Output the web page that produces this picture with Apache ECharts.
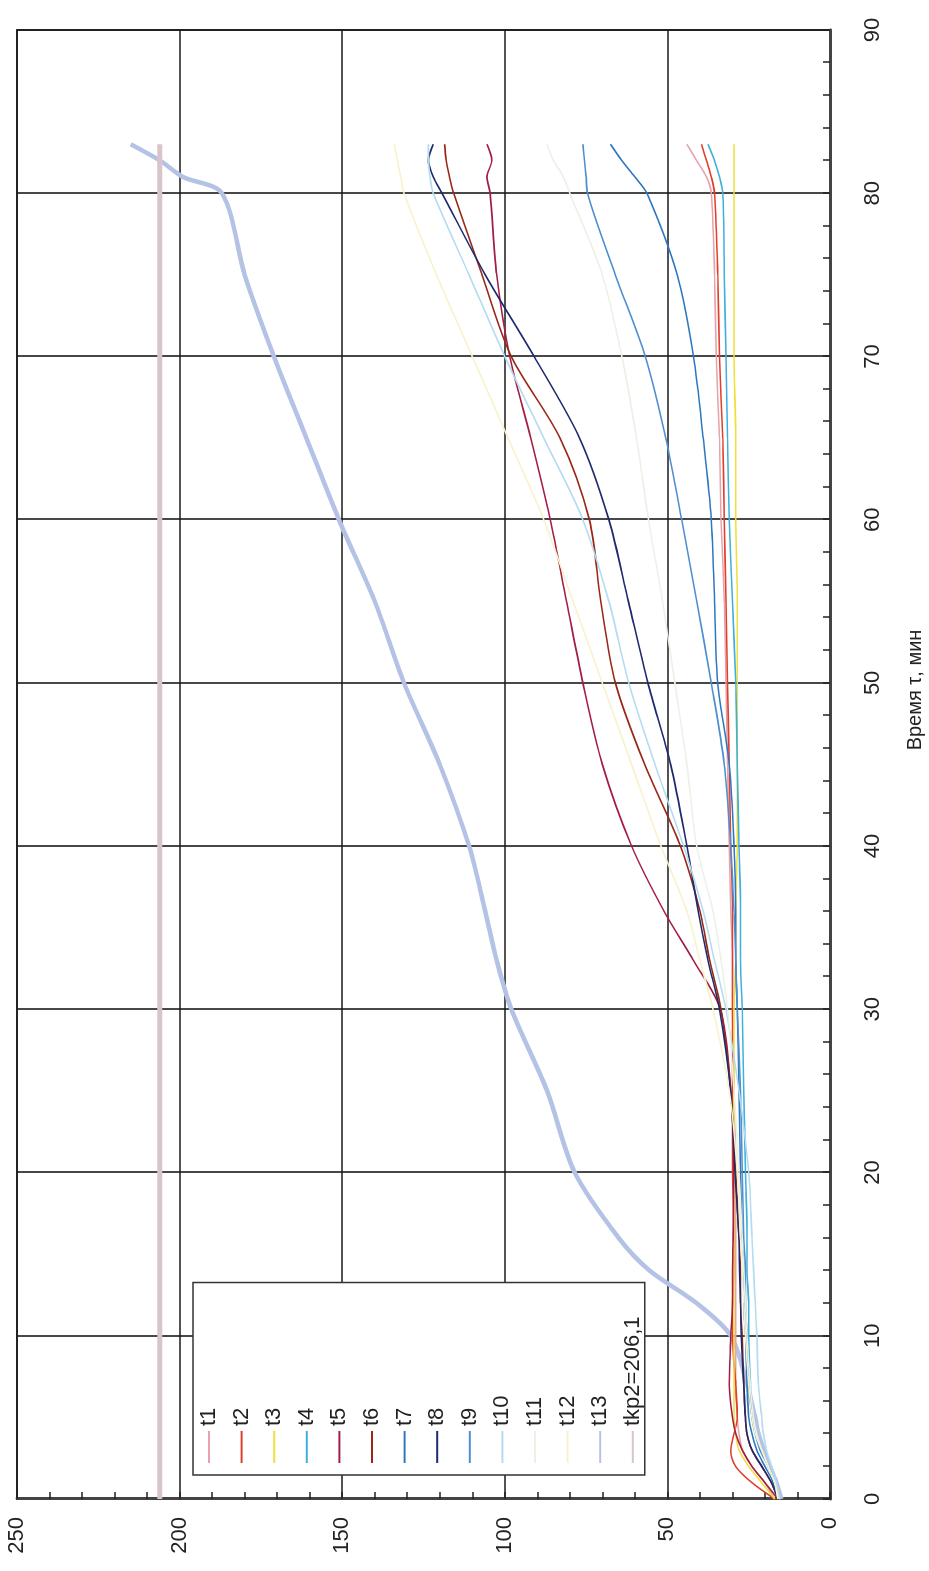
<!DOCTYPE html>
<html>
<head>
<meta charset="utf-8">
<script src="https://cdn.jsdelivr.net/npm/echarts@6/dist/echarts.min.js"></script>
<style>
  html, body { margin: 0; padding: 0; width: 929px; height: 1571px; overflow: hidden; background: #fff; }
  /* the chart is drawn landscape and turned a quarter turn, like the scan */
  #chart { position: absolute; left: 0; top: 0; width: 1571px; height: 929px;
           transform-origin: 0 0; transform: translateY(1571px) rotate(-90deg); }
</style>
</head>
<body>
<div id="chart"></div>
<script>
var times = [0, 1, 2, 3, 4, 5, 7, 10, 12, 14, 16, 20, 25, 30, 33, 36, 40, 45, 50, 55, 60, 65, 70, 75, 80, 81, 82, 83];

var t1  = [17, 20, 24, 27, 28, 28.5, 29, 29, 29, 29, 29, 29, 29.5, 30, 30, 30.5, 31, 31.5, 32, 32.5, 33.5, 34, 35, 35.5, 36.5, 38, 41, 44];
var t2  = [17, 24, 29, 30.5, 29.5, 28.5, 29, 30, 30, 29.5, 29.5, 30, 30, 30, 30, 30, 30.5, 31, 31.5, 32, 32.5, 33, 34, 34.5, 35.5, 36.5, 38, 39.5];
var t3  = [17, 21, 25, 28, 29, 29.5, 29.5, 29.5, 29.5, 29.5, 29.5, 29.5, 29.5, 29.5, 29, 29, 28.5, 28.5, 28.5, 28.5, 29, 29, 29.5, 29.5, 29.5, 29.5, 29.5, 29.5];
var t4  = [16, 17, 19, 21, 23, 24, 24.5, 25, 25, 25.5, 25.5, 26, 26.5, 27, 27.5, 27.5, 28, 28.5, 29, 30, 31, 31.5, 32, 32.5, 33, 34, 35.5, 37.5];
var t5  = [16, 20, 24, 27, 29, 30, 31, 30.5, 30, 30, 29.8, 29.6, 30.5, 33.7, 42, 51, 61, 70, 76, 81, 86, 92, 98.5, 102.5, 104.5, 105.5, 104, 105.5];
var t6  = [16, 18, 21, 24, 25.5, 26, 26.5, 27, 27.5, 27.5, 28, 29, 30.5, 33.5, 37, 40, 46, 57, 66, 70.5, 74, 83, 98, 107, 115.7, 117, 118, 118.5];
var t7  = [16, 17.5, 20, 22.5, 24, 25, 25.5, 26, 26.5, 26.5, 27, 27.5, 28, 28.5, 29, 29, 29.5, 31, 34.5, 35.5, 36.5, 39, 42, 47, 56.3, 60, 64, 67.5];
var t8  = [16, 18, 21, 24, 25.5, 26, 26.5, 27.3, 27.5, 27.8, 28, 29.2, 30.6, 34, 37.5, 40.5, 44, 49, 56, 62, 68, 77, 91, 106, 119.3, 122, 123.5, 122];
var t9  = [16, 17, 19, 21.5, 23, 24, 25, 25.5, 26, 26, 26.5, 27, 27.5, 28.5, 29, 29.5, 30.5, 32.5, 36.5, 41, 45.6, 50.5, 56.8, 66, 74.6, 75, 75.5, 76];
var t10 = [15.5, 16.5, 18, 19.5, 20.5, 21, 22, 22.5, 23, 23.5, 24, 25, 28, 32, 35.5, 39, 45, 53.8, 61.9, 68, 76, 88, 100, 111, 122, 123, 123.5, 123.5];
var t11 = [16, 17, 19, 21, 22.5, 23.5, 24.5, 25.5, 26, 26.5, 27, 28, 29.5, 31.5, 33.5, 36, 41, 44, 47.7, 51.5, 55.8, 59.5, 64, 70, 80, 82, 85, 87];
var t12 = [16, 17, 19, 21, 23, 24, 25, 26, 26.5, 27, 27.5, 28.5, 31, 36, 40, 44, 52, 61, 70, 79, 88, 99, 110, 121, 131, 132, 133, 134];
var t13 = [15, 16.5, 18.5, 20.4, 22, 23, 25.5, 30.5, 41, 55.5, 65, 78.5, 87, 98, 102.5, 106, 111, 120, 131, 140, 151, 161, 171, 180, 187, 199, 206, 215];

var tkpTimes = [0, 83];
var tkpValues = [206.1, 206.1];

var names  = ['t1', 't2', 't3', 't4', 't5', 't6', 't7', 't8', 't9', 't10', 't11', 't12', 't13'];
var values = [t1, t2, t3, t4, t5, t6, t7, t8, t9, t10, t11, t12, t13];
var colors = ['#e6a3ad', '#e0402a', '#f0e03a', '#3fb0dc', '#a31d45', '#9a2818', '#2f78c0', '#1f2a6e', '#4d8fcf',
              '#b4dcf0', '#eaf2e6', '#f8f2cc', '#b4c2e6'];

function pairs(xs, ys) {
  return xs.map(function(x, i) { return [x, ys[i]]; });
}

var series = names.map(function(n, i) {
  return {
    name: n,
    type: 'line',
    symbol: 'none',
    smooth: 0.3,
    data: pairs(times, values[i]),
    lineStyle: { color: colors[i], width: n == 't13' ? 4.5 : 1.6 },
    itemStyle: { color: colors[i] },
    z: n == 't13' ? 1 : 3
  };
});
series.push({
  name: 'tkp2=206,1',
  type: 'line',
  symbol: 'none',
  data: pairs(tkpTimes, tkpValues),
  lineStyle: { color: '#d8c4ca', width: 5 },
  itemStyle: { color: '#d8c4ca' },
  z: 1
});

var axisText = { color: '#222', fontSize: 22, fontFamily: 'Liberation Sans, Arial, sans-serif' };

var myChart = echarts.init(document.getElementById('chart'));
var option = {
  animation: false,
  backgroundColor: '#fff',
  grid: {
    left: 72, right: 30, top: 17, bottom: 99,
    show: true, borderColor: '#444', borderWidth: 2
  },
  legend: {
    orient: 'vertical',
    left: 96, top: 193,
    padding: [5, 34, 1, 12],
    icon: 'rect',
    itemWidth: 32, itemHeight: 2, itemGap: 10.6,
    backgroundColor: '#fff',
    borderColor: '#333', borderWidth: 1.5, borderRadius: 0,
    textStyle: { color: '#222', fontSize: 22, fontFamily: 'Liberation Sans, Arial, sans-serif' },
    data: names.concat(['tkp2=206,1'])
  },
  xAxis: {
    type: 'value', min: 0, max: 90, interval: 10,
    axisLine: { show: true, onZero: false, lineStyle: { color: '#444', width: 3 } },
    axisTick: { show: true, inside: true, length: 7, lineStyle: { color: '#222', width: 1.5 } },
    minorTick: { show: true, splitNumber: 5, length: 7, lineStyle: { color: '#222', width: 1.5 } },
    axisLabel: Object.assign({ margin: 32 }, axisText),
    splitLine: { show: true, lineStyle: { color: '#1a1a1a', width: 1.6 } }
  },
  yAxis: {
    type: 'value', min: 0, max: 250, interval: 50,
    axisLine: { show: true, onZero: false, lineStyle: { color: '#444', width: 3 } },
    axisTick: { show: true, inside: true, length: 7, lineStyle: { color: '#222', width: 1.5 } },
    minorTick: { show: true, splitNumber: 5, length: 7, lineStyle: { color: '#222', width: 1.5 } },
    axisLabel: Object.assign({ margin: 18 }, axisText),
    splitLine: { show: true, lineStyle: { color: '#1a1a1a', width: 1.6 } }
  },
  graphic: [{
    type: 'text', x: 881, y: 905,
    style: { text: 'Время τ, мин', fill: '#222', fontSize: 20, textAlign: 'center',
             fontFamily: 'Liberation Sans, Arial, sans-serif' }
  }],
  series: series
};
myChart.setOption(option);
</script>
</body>
</html>
